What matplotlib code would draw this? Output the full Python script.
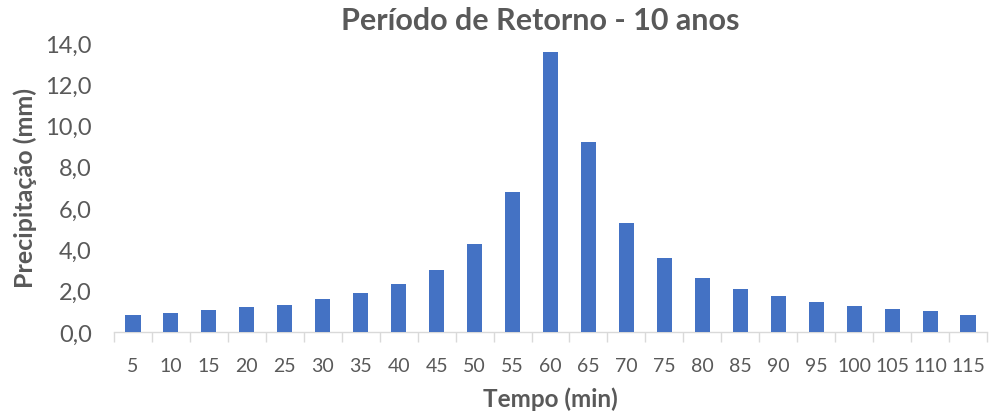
import matplotlib
matplotlib.use("Agg")
import matplotlib.pyplot as plt
import numpy as np
from matplotlib.ticker import FixedLocator, FuncFormatter

plt.rcParams['font.family'] = ['Lato', 'DejaVu Sans']

tempo = [5, 10, 15, 20, 25, 30, 35, 40, 45, 50, 55, 60,
         65, 70, 75, 80, 85, 90, 95, 100, 105, 110, 115]
precipitacao = [0.84, 0.92, 1.05, 1.20, 1.32, 1.59, 1.88, 2.34, 3.02, 4.25,
                6.78, 13.57, 9.20, 5.27, 3.56, 2.60, 2.07, 1.73, 1.46, 1.25,
                1.12, 0.99, 0.84]
yticks = [0, 2, 4, 6, 8, 10, 12, 14]

text_color = '#595959'
bar_color = '#4472C4'
axis_color = '#D9D9D9'

fig = plt.figure(figsize=(9.91, 4.14), dpi=100)
ax = fig.add_axes([0.115, 0.196, 0.881, 0.698])

x = np.arange(len(tempo))
ax.bar(x, precipitacao, width=0.4, color=bar_color, zorder=3)

ax.set_xlim(-0.5, len(tempo) - 0.5)
ax.set_ylim(0, 14)
ax.set_yticks(yticks)
ax.yaxis.set_major_formatter(FuncFormatter(lambda v, p: f"{v:.1f}".replace('.', ',')))
ax.set_xticks(x)
ax.set_xticklabels([str(t) for t in tempo])
ax.xaxis.set_minor_locator(FixedLocator(np.arange(-0.5, len(tempo), 1.0)))

for side in ('top', 'right', 'left'):
    ax.spines[side].set_visible(False)
ax.spines['bottom'].set_color(axis_color)
ax.spines['bottom'].set_linewidth(1.0)

ax.tick_params(axis='x', which='major', length=0, pad=18, labelsize=14, labelcolor=text_color)
ax.tick_params(axis='x', which='minor', length=7, width=1.0, color=axis_color, direction='out')
ax.tick_params(axis='y', length=0, pad=16, labelsize=17, labelcolor=text_color)

ax.set_title('Período de Retorno - 10 anos', fontsize=22, fontweight='bold',
             color=text_color, pad=10, x=0.488)
ax.set_xlabel('Tempo (min)', fontsize=17.5, fontweight='bold', color=text_color, labelpad=9)
ax.set_ylabel('Precipitação (mm)', fontsize=18, fontweight='bold', color=text_color, labelpad=6)

fig.savefig('out.png', dpi=100)
